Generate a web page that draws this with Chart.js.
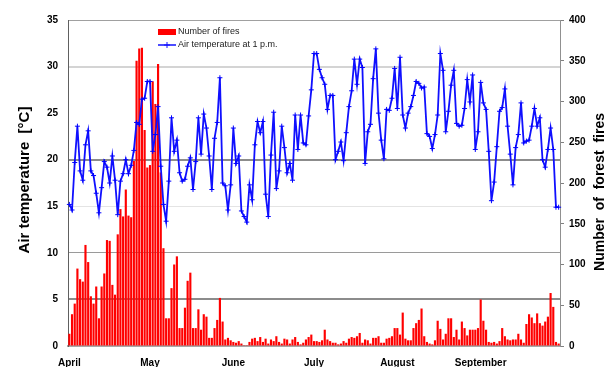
<!DOCTYPE html>
<html>
<head>
<meta charset="utf-8">
<script src="https://cdn.jsdelivr.net/npm/chart.js@4.4.1/dist/chart.umd.min.js"></script>
<style>
  html, body { margin: 0; padding: 0; background: #fff; }
</style>
</head>
<body>
<canvas id="fireChart" width="608" height="367"></canvas>
<script>
// months of the season and their lengths (one category per day)
const monthNames = ['April', 'May', 'June', 'July', 'August', 'September'];
const monthDays = [30, 31, 30, 31, 31, 30];

// air temperature at 1 p.m. [°C]
const tempApr = [15.2, 14.6, 19.7, 23.6, 18.8, 17.8, 21.6, 23.1, 18.8, 18.3, 16.4, 14.3, 17.0, 19.8, 19.2, 17.5, 20.4, 17.8, 14.1, 17.7, 18.5, 20.0, 18.5, 19.4, 21.0, 24.0, 23.8, 26.5, 26.6, 28.4];
const tempMay = [28.4, 20.9, 22.7, 25.7, 19.3, 15.2, 13.4, 17.7, 24.5, 20.9, 22.1, 18.6, 17.7, 17.9, 19.3, 20.2, 16.8, 19.8, 24.5, 20.6, 24.9, 23.4, 20.4, 16.8, 22.3, 24.0, 28.8, 17.5, 17.2, 14.6, 17.3];
const tempJun = [23.4, 19.6, 20.4, 14.5, 13.9, 13.3, 17.3, 15.7, 21.6, 24.1, 22.9, 24.1, 16.3, 13.9, 20.5, 25.1, 16.9, 18.8, 23.6, 21.3, 18.6, 19.6, 17.8, 24.8, 21.1, 24.8, 21.8, 21.6, 24.7, 27.5];
const tempJul = [31.4, 31.4, 29.7, 28.8, 28.1, 25.4, 26.9, 26.9, 20.0, 20.9, 21.9, 19.9, 22.9, 25.7, 27.4, 30.8, 28.1, 30.8, 29.9, 19.6, 23.0, 23.8, 28.7, 31.9, 25.0, 22.1, 20.1, 25.4, 25.3, 26.6, 29.8];
const tempAug = [25.5, 31.0, 24.8, 23.4, 25.0, 25.7, 26.9, 28.4, 28.2, 27.7, 27.8, 22.8, 22.5, 21.2, 22.7, 24.8, 31.4, 29.6, 23.0, 25.2, 28.0, 29.6, 23.9, 23.6, 23.7, 25.5, 28.6, 26.2, 29.1, 21.1, 23.0];
const tempSep = [28.3, 26.1, 25.4, 20.9, 15.6, 17.6, 21.4, 25.2, 25.6, 27.6, 23.6, 20.6, 17.3, 21.3, 22.7, 26.1, 21.8, 22.0, 22.1, 23.6, 25.5, 23.6, 24.5, 20.0, 19.2, 21.1, 23.4, 21.1, 14.9, 14.9];

// number of forest fires per day
const firesApr = [15, 39, 52, 95, 82, 79, 124, 103, 61, 52, 73, 34, 73, 89, 130, 129, 75, 63, 137, 168, 159, 192, 160, 158, 227, 350, 365, 366, 265, 219];
const firesMay = [222, 325, 297, 346, 213, 120, 34, 34, 71, 100, 110, 22, 22, 47, 80, 90, 22, 22, 45, 20, 39, 36, 10, 10, 22, 32, 59, 30, 8, 10, 7];
const firesJun = [5, 4, 6, 3, 1, 1, 5, 9, 10, 6, 11, 5, 9, 3, 8, 6, 12, 5, 3, 9, 8, 3, 8, 11, 5, 2, 4, 8, 11, 14];
const firesJul = [6, 6, 5, 7, 20, 8, 6, 4, 4, 2, 3, 6, 4, 9, 11, 10, 12, 16, 4, 8, 7, 3, 10, 10, 12, 4, 4, 9, 10, 12, 22];
const firesAug = [22, 14, 41, 9, 7, 7, 22, 28, 32, 46, 12, 5, 3, 2, 7, 31, 21, 8, 15, 34, 34, 11, 20, 8, 30, 22, 13, 20, 20, 20, 22];
const firesSep = [57, 31, 20, 5, 4, 5, 3, 6, 22, 12, 8, 7, 8, 8, 15, 8, 4, 27, 39, 35, 28, 40, 28, 25, 30, 36, 65, 48, 5, 3];

// axis ticks
const tempTicks = [0, 5, 10, 15, 20, 25, 30, 35];
const fireTicks = [0, 50, 100, 150, 200, 250, 300, 350, 400];

const temperature = [].concat(tempApr, tempMay, tempJun, tempJul, tempAug, tempSep);
const fires = [].concat(firesApr, firesMay, firesJun, firesJul, firesAug, firesSep);

// one label per day, remember where each month starts
const days = [];
const monthStart = {};
monthNames.forEach((m, mi) => {
  monthStart[days.length] = m;
  for (let d = 1; d <= monthDays[mi]; d++) days.push(m + ' ' + d);
});

const FONT = 'Liberation Sans, Arial, sans-serif';

// gridline look per temperature value (as it appears in the picture)
const gridStyle = {
  35: ['#a0a0a0', 1], 30: ['#d4d4d4', 2], 25: ['rgba(0,0,0,0)', 1], 20: ['#8c8c8c', 2],
  15: ['#e4e4e4', 1], 10: ['#9a9a9a', 1], 5: ['#8c8c8c', 2], 0: ['rgba(0,0,0,0)', 1]
};

// axis titles, both reading bottom to top
const axisTitles = {
  id: 'axisTitles',
  afterDraw(chart) {
    const c = chart.ctx;
    const mid = (chart.chartArea.top + chart.chartArea.bottom) / 2;
    c.save();
    c.fillStyle = '#000';
    c.textAlign = 'center';
    c.textBaseline = 'middle';
    c.font = 'bold 15px ' + FONT;
    c.translate(25, mid - 3);
    c.rotate(-Math.PI / 2);
    c.fillText('Air temperature  [°C]', 0, 0);
    c.restore();
    c.save();
    c.fillStyle = '#000';
    c.textAlign = 'center';
    c.textBaseline = 'middle';
    c.font = 'bold 14px ' + FONT;
    c.translate(600, mid + 9);
    c.rotate(-Math.PI / 2);
    c.fillText('Number  of  forest  fires', 0, 0);
    c.restore();
  }
};

// small legend inside the plot, top left
const innerLegend = {
  id: 'innerLegend',
  afterDraw(chart) {
    const c = chart.ctx;
    const x = 158, y1 = 32, y2 = 45;
    c.save();
    c.fillStyle = '#ff0000';
    c.fillRect(x, y1 - 3, 18, 6);
    c.strokeStyle = '#1010ff';
    c.lineWidth = 1.5;
    c.beginPath();
    c.moveTo(x, y2);
    c.lineTo(x + 18, y2);
    c.stroke();
    c.lineWidth = 1;
    c.beginPath();
    c.moveTo(x + 9, y2 - 3);
    c.lineTo(x + 9, y2 + 3);
    c.moveTo(x + 6, y2);
    c.lineTo(x + 12, y2);
    c.stroke();
    c.fillStyle = '#222';
    c.font = '9px ' + FONT;
    c.textBaseline = 'middle';
    c.fillText('Number of fires', x + 20, y1);
    c.fillText('Air temperature at 1 p.m.', x + 20, y2);
    c.restore();
  }
};

const ctx = document.getElementById('fireChart').getContext('2d');
new Chart(ctx, {
  data: {
    labels: days,
    datasets: [
      {
        type: 'line',
        label: 'Air temperature at 1 p.m.',
        data: temperature,
        yAxisID: 'yTemp',
        borderColor: '#1010ff',
        borderWidth: 1.8,
        tension: 0,
        pointStyle: 'cross',
        pointRadius: 2.5,
        pointBorderColor: '#0000ff',
        pointBorderWidth: 1,
        order: 0
      },
      {
        type: 'bar',
        label: 'Number of fires',
        data: fires,
        yAxisID: 'yFires',
        backgroundColor: '#ff0000',
        barPercentage: 0.8,
        categoryPercentage: 1.0,
        order: 1
      }
    ]
  },
  options: {
    responsive: false,
    animation: false,
    layout: { padding: { top: 20, left: 0, right: 0, bottom: 0 } },
    plugins: { legend: { display: false }, tooltip: { enabled: false } },
    scales: {
      x: {
        offset: true,
        grid: { display: false },
        border: { display: true, color: '#a8a8a8', width: 2 },
        ticks: {
          autoSkip: false,
          maxRotation: 0,
          minRotation: 0,
          padding: 3,
          color: '#000',
          font: { family: FONT, size: 10, weight: 'bold' },
          callback: (v, i) => monthStart[i] || ''
        },
        afterFit: (s) => { s.height = 21; }
      },
      yTemp: {
        position: 'left',
        min: 0,
        max: 35,
        afterBuildTicks: (s) => { s.ticks = tempTicks.map((v) => ({ value: v })); },
        grid: {
          drawTicks: false,
          color: (c) => (gridStyle[c.tick.value] || ['#ccc', 1])[0],
          lineWidth: (c) => (gridStyle[c.tick.value] || ['#ccc', 1])[1]
        },
        border: { color: '#606060', width: 1 },
        ticks: { padding: 10, color: '#000', font: { family: FONT, size: 10, weight: 'bold' } },
        afterFit: (s) => { s.width = 68; }
      },
      yFires: {
        position: 'right',
        min: 0,
        max: 400,
        afterBuildTicks: (s) => { s.ticks = fireTicks.map((v) => ({ value: v })); },
        grid: { drawOnChartArea: false, tickLength: 4, color: '#808080' },
        border: { color: '#909090', width: 1 },
        ticks: { padding: 5, color: '#000', font: { family: FONT, size: 10, weight: 'bold' } },
        afterFit: (s) => { s.width = 48; }
      }
    }
  },
  plugins: [axisTitles, innerLegend]
});
</script>
</body>
</html>
